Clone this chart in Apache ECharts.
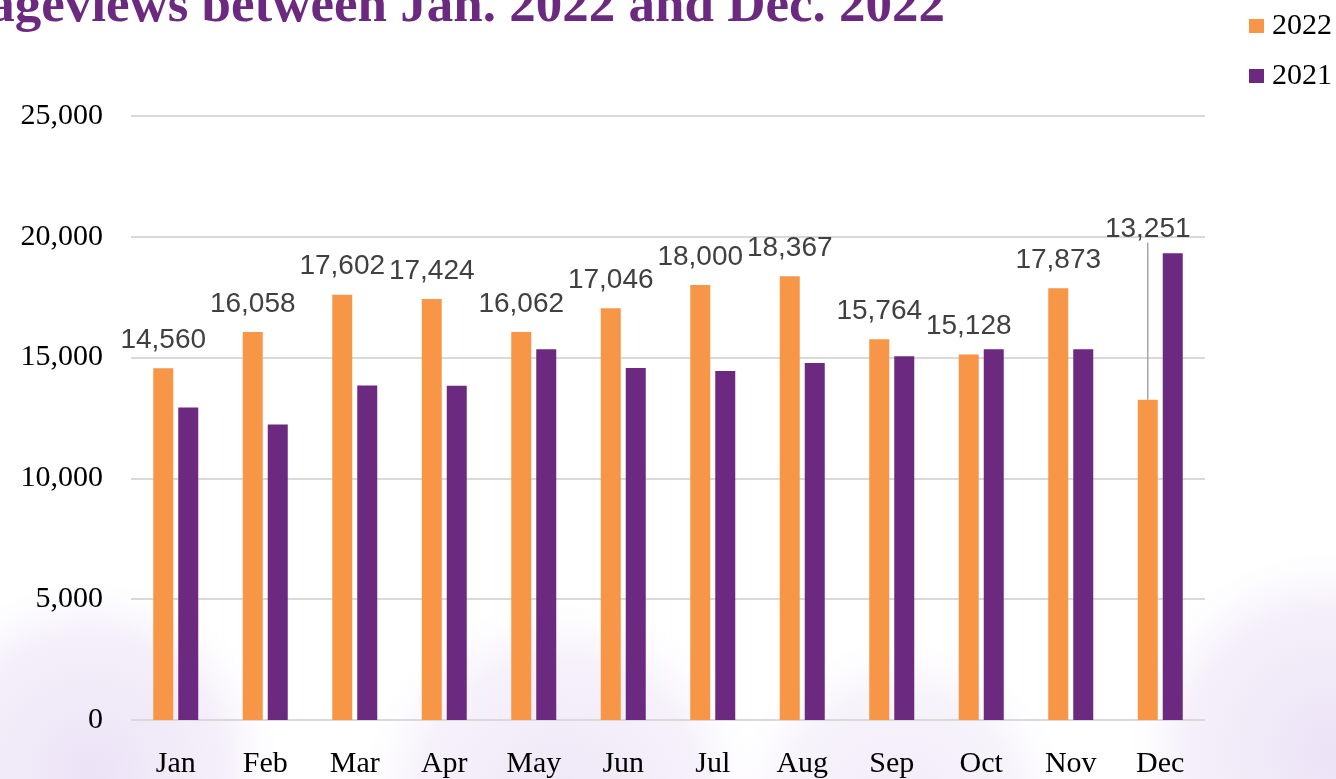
<!DOCTYPE html>
<html>
<head>
<meta charset="utf-8">
<script src="https://cdn.jsdelivr.net/npm/echarts@6/dist/echarts.min.js"></script>
<style>
html,body{margin:0;padding:0;background:#fff;}
#chart{width:1336px;height:779px;}
</style>
</head>
<body>
<div id="chart"></div>
<script>
const categories = ['Jan','Feb','Mar','Apr','May','Jun','Jul','Aug','Sep','Oct','Nov','Dec'];
const values2022 = [14560, 16058, 17602, 17424, 16062, 17046, 18000, 18367, 15764, 15128, 17873, 13251];
const values2021 = [12930, 12230, 13850, 13830, 15350, 14570, 14450, 14780, 15060, 15350, 15350, 19320];
const yTicks = { min: 0, max: 25000, interval: 5000 };
const titleText = 'Pageviews between Jan. 2022 and Dec. 2022';

const ORANGE = '#F79646';
const PURPLE = '#6B2A7F';
const fmt = v => Number(v).toLocaleString('en-US');

function blob(cx, cy, r, a) {
  return {
    type: 'circle', z: -10, silent: true,
    shape: { cx: cx, cy: cy, r: r },
    style: {
      fill: {
        type: 'radial', x: 0.5, y: 0.5, r: 0.5,
        colorStops: [
          { offset: 0, color: 'rgba(200,175,230,' + a + ')' },
          { offset: 0.7, color: 'rgba(210,190,235,' + (a * 0.7) + ')' },
          { offset: 1, color: 'rgba(230,215,245,0)' }
        ]
      }
    }
  };
}

const data2022 = values2022.map((v, i) =>
  i === 11 ? { value: v, labelLine: { show: true } } : { value: v, labelLine: { show: false } }
);

const chart = echarts.init(document.getElementById('chart'));
chart.setOption({
  backgroundColor: '#ffffff',
  animation: false,
  graphic: [
    blob(90, 770, 190, 0.35),
    blob(560, 800, 200, 0.3),
    blob(900, 810, 170, 0.25),
    blob(1330, 750, 200, 0.35),
    {
      type: 'text', z: 10,
      style: {
        text: titleText,
        x: 945, y: 7,
        align: 'right', verticalAlign: 'middle',
        fill: PURPLE,
        font: 'bold 53px "Liberation Serif", "Times New Roman", serif'
      }
    }
  ],
  legend: {
    orient: 'vertical',
    left: 1249, top: 11,
    padding: 0,
    itemWidth: 15, itemHeight: 14,
    itemGap: 20,
    icon: 'rect',
    data: ['2022', '2021'],
    textStyle: {
      fontFamily: '"Liberation Serif", serif',
      fontSize: 30, lineHeight: 30, color: '#000',
      padding: [0, 0, 0, 3]
    }
  },
  grid: { left: 131, right: 131, top: 116, bottom: 54, containLabel: false },
  xAxis: {
    type: 'category',
    data: categories,
    axisLine: { show: false },
    axisTick: { show: false },
    axisLabel: {
      margin: 29,
      color: '#000',
      fontFamily: '"Liberation Serif", serif',
      fontSize: 30
    }
  },
  yAxis: {
    type: 'value',
    min: yTicks.min, max: yTicks.max, interval: yTicks.interval,
    axisLine: { show: false },
    axisTick: { show: false },
    splitLine: { lineStyle: { color: '#d9d9d9', width: 2 } },
    axisLabel: {
      margin: 28,
      color: '#000',
      fontFamily: '"Liberation Serif", serif',
      fontSize: 30,
      formatter: v => fmt(v)
    }
  },
  series: [
    {
      name: '2022', type: 'bar',
      data: data2022,
      barWidth: 20, barGap: '25%',
      itemStyle: { color: ORANGE },
      label: {
        show: true, position: 'top', distance: 14,
        color: '#404040',
        fontFamily: '"Liberation Sans", Arial, sans-serif',
        fontSize: 28,
        formatter: p => fmt(p.value)
      },
      labelLine: { show: false, lineStyle: { color: '#a6a6a6', width: 1.5 } },
      labelLayout: function (params) {
        if (params.dataIndex === 11) return { dy: -143 };
        return {};
      }
    },
    {
      name: '2021', type: 'bar',
      data: values2021,
      barWidth: 20, barGap: '25%',
      itemStyle: { color: PURPLE }
    }
  ]
});
</script>
</body>
</html>
